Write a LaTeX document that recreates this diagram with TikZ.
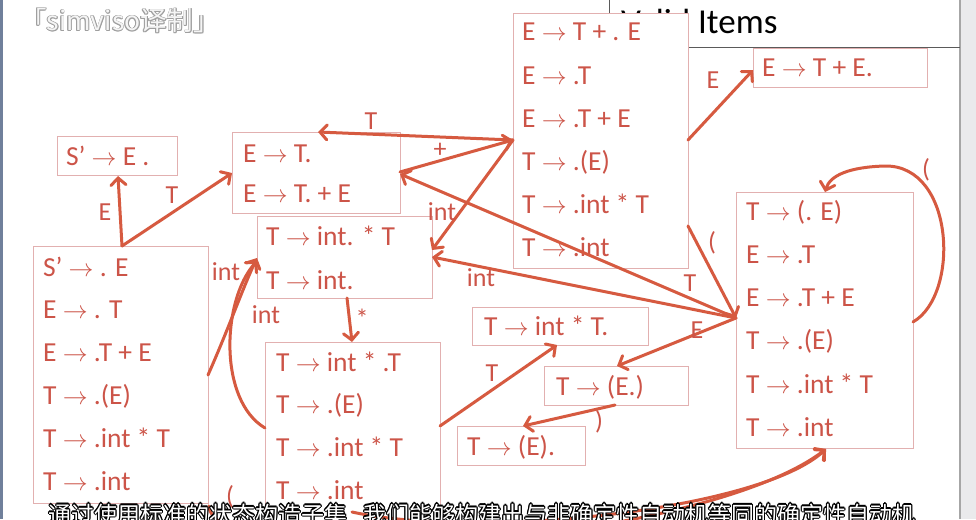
\documentclass[tikz,border=0pt]{standalone}
\usepackage{fontspec}
\setmainfont{Carlito}
\newfontfamily\cjk{Noto Sans CJK SC}
\usetikzlibrary{arrows.meta,calc}
\definecolor{txtc}{RGB}{204,84,72}
\definecolor{arrc}{RGB}{214,90,64}
\definecolor{boxc}{RGB}{226,176,176}
\definecolor{leftc}{RGB}{112,128,155}
\definecolor{rightc}{RGB}{234,234,236}
\definecolor{tabc}{RGB}{90,90,90}
\newcommand{\myra}{$\rightarrow$}
\newcommand{\itemlist}[5]{%
  \foreach \t [count=\i] in {#5} {\node[itm] (#1-\i) at (#2,{#3+#4*(\i-1)}) {\t};}}
\tikzset{
  box/.style={draw=boxc, line width=0.9pt, fill=white, anchor=north west, inner sep=0pt},
  itm/.style={text=txtc, font=\fontsize{27.5}{30}\selectfont, anchor=base west, inner sep=0pt},
  lbl/.style={text=txtc, font=\fontsize{26}{30}\selectfont, inner sep=0pt},
  edge/.style={draw=arrc, line width=3pt, line cap=round, -{Straight Barb[length=7pt,width=15pt,line cap=round]}},
  wm/.style={font=\cjk\fontsize{26.5}{30}\selectfont, anchor=base west, inner sep=0pt},
  sub/.style={font=\cjk\fontsize{23}{28}\selectfont, anchor=base west, inner sep=0pt},
}
\begin{document}
\begin{tikzpicture}[x=1pt,y=-1pt]
\useasboundingbox (0,0) rectangle (976,519);
\fill[white] (0,0) rectangle (976,519);
\fill[leftc] (0,0) rectangle (3,519);
\fill[rightc] (961,0) rectangle (976,519);
\draw[gray!70, line width=1.2pt] (960,0) -- (960,519);
\draw[tabc, line width=1pt] (609,0) -- (609,48) -- (960,48);
\node[font=\fontsize{35}{40}\selectfont, anchor=base west, inner sep=0pt] (vi) at (621,34) {Valid Items};

% boxes
\node[box, minimum width=120pt, minimum height=39pt] (b1) at (57,136) {};
\node[box, minimum width=175pt, minimum height=257pt] (b2) at (33,246) {};
\node[box, minimum width=168pt, minimum height=81pt] (b3) at (232,132) {};
\node[box, minimum width=175pt, minimum height=82pt] (b4) at (257,216) {};
\node[box, minimum width=175pt, minimum height=185pt] (b5) at (265,342) {};
\node[box, minimum width=175pt, minimum height=255pt] (b6) at (513,13) {};
\node[box, minimum width=174pt, minimum height=39pt] (b7) at (753,48) {};
\node[box, minimum width=176pt, minimum height=38pt] (b8) at (472,307) {};
\node[box, minimum width=144pt, minimum height=39pt] (b9) at (544,366) {};
\node[box, minimum width=128pt, minimum height=39pt] (b10) at (457,426) {};
\node[box, minimum width=177pt, minimum height=256pt] (b11) at (736,192) {};

% items
\itemlist{t1}{66}{165}{0}{{S’ \myra{} E .}}
\itemlist{t2}{43}{276}{42.8}{{S’ \myra{} . E},{E \myra{} . T},{E \myra{} .T + E},{T \myra{} .(E)},{T \myra{} .int * T},{T \myra{} .int}}
\itemlist{t3}{243}{162}{40}{{E \myra{} T.},{E \myra{} T. + E}}
\itemlist{t4}{266}{245}{44}{{T \myra{} int. * T},{T \myra{} int.}}
\itemlist{t5}{276}{371}{42.7}{{T \myra{} int * .T},{T \myra{} .(E)},{T \myra{} .int * T},{T \myra{} .int}}
\itemlist{t6}{522}{41}{43}{{E \myra{} T + . E},{E \myra{} .T},{E \myra{} .T + E},{T \myra{} .(E)},{T \myra{} .int * T},{T \myra{} .int}}
\itemlist{t7}{762}{77}{0}{{E \myra{} T + E.}}
\itemlist{t8}{484}{335}{0}{{T \myra{} int * T.}}
\itemlist{t9}{556}{395}{0}{{T \myra{} (E.)}}
\itemlist{t10}{467}{455}{0}{{T \myra{} (E).}}
\itemlist{t11}{746}{220}{43.3}{{T \myra{} (. E)},{E \myra{} .T},{E \myra{} .T + E},{T \myra{} .(E)},{T \myra{} .int * T},{T \myra{} .int}}

% connectors
\draw[edge] ($(b2.north west)+(89,0)$) -- ($(b1.north west)+(61,40)$);
\draw[edge] ($(b2.north west)+(89,0)$) -- ($(b3.north west)+(0,41)$);
\draw[edge] ($(b2.north west)+(175,129)$) .. controls (228,330) and (244,285) .. ($(b4.north west)+(0,42)$);
\draw[edge] ($(b5.north west)+(0,86)$) .. controls (218,400) and (222,300) .. ($(b4.north west)+(0,45)$);
\draw[edge] ($(b4.north west)+(90,82)$) -- ($(b5.north west)+(87,0)$);
\draw[edge] ($(b6.north west)+(0,127)$) -- ($(b3.north west)+(86,0)$);
\draw[edge] ($(b3.north west)+(168,40)$) -- ($(b6.north west)+(0,127)$);
\draw[edge] ($(b6.north west)+(0,127)$) -- ($(b4.north west)+(175,34)$);
\draw[edge] ($(b6.north west)+(175,213)$) -- ($(b11.north west)+(0,126)$);
\draw[edge] ($(b6.north west)+(175,127)$) -- ($(b7.north west)+(0,22)$);
\draw[edge] ($(b11.north west)+(0,126)$) -- ($(b3.north west)+(168,42)$);
\draw[edge] ($(b11.north west)+(0,126)$) -- ($(b4.north west)+(175,41)$);
\draw[edge] ($(b11.north west)+(0,126)$) -- ($(b9.north west)+(73,0)$);
\draw[edge] ($(b9.north west)+(71,39)$) -- ($(b10.north west)+(66,0)$);
\draw[edge] ($(b5.north west)+(175,84)$) -- ($(b8.north west)+(85,38)$);
\draw[edge] ($(b11.north west)+(177,130)$) .. controls (960,295) and (955,165) .. (885,166) .. controls (850,167) and (830,175) .. ($(b11.north west)+(89,0)$);
\draw[edge] ($(b2.south east)+(0,2)$) .. controls (215,580) and (700,545) .. ($(b11.north west)+(90,257)$);
\draw[edge] ($(b5.north west)+(87,170)$) .. controls (480,540) and (760,510) .. ($(b11.north west)+(90,257)$);

% labels
\node[lbl] (l1) at (105,212) {E};
\node[lbl] (l2) at (172,195) {T};
\node[lbl] (l3) at (226,272) {int};
\node[lbl] (l4) at (266,315) {int};
\node[lbl] (l5) at (362,318) {*};
\node[lbl] (l6) at (371,121) {T};
\node[lbl] (l7) at (440,150) {+};
\node[lbl] (l8) at (442,212) {int};
\node[lbl] (l9) at (712,243) {(};
\node[lbl] (l10) at (713,80) {E};
\node[lbl] (l11) at (690,283) {T};
\node[lbl] (l12) at (481,278) {int};
\node[lbl] (l13) at (697,330) {E};
\node[lbl] (l14) at (599,422) {)};
\node[lbl] (l15) at (492,373) {T};
\node[lbl] (l16) at (926,170) {(};
\node[lbl] (l17) at (230,497) {(};

% watermark
\foreach \dx/\dy [count=\k] in {-0.8/0,0.8/0,0/-0.8,0/0.8,-0.6/-0.6,0.6/0.6,-0.6/0.6,0.6/-0.6}
  \node[wm, text=gray!75] (wmo\k) at (20+\dx,31+\dy) {「simviso译制」};
\node[wm, text=gray!8] (wm) at (20,31) {「simviso译制」};

% subtitle
\foreach \dx/\dy [count=\k] in {-1.2/0,1.2/0,0/-1.2,0/1.2,-0.9/-0.9,0.9/0.9,-0.9/0.9,0.9/-0.9}
  \node[sub, text=black] (sbo\k) at (48+\dx,523+\dy) {通过使用标准的状态构造子集\hspace{0.7em}我们能够构建出与非确定性自动机等同的确定性自动机};
\node[sub, text=white] (sb) at (48,523) {通过使用标准的状态构造子集\hspace{0.7em}我们能够构建出与非确定性自动机等同的确定性自动机};
\end{tikzpicture}
\end{document}
